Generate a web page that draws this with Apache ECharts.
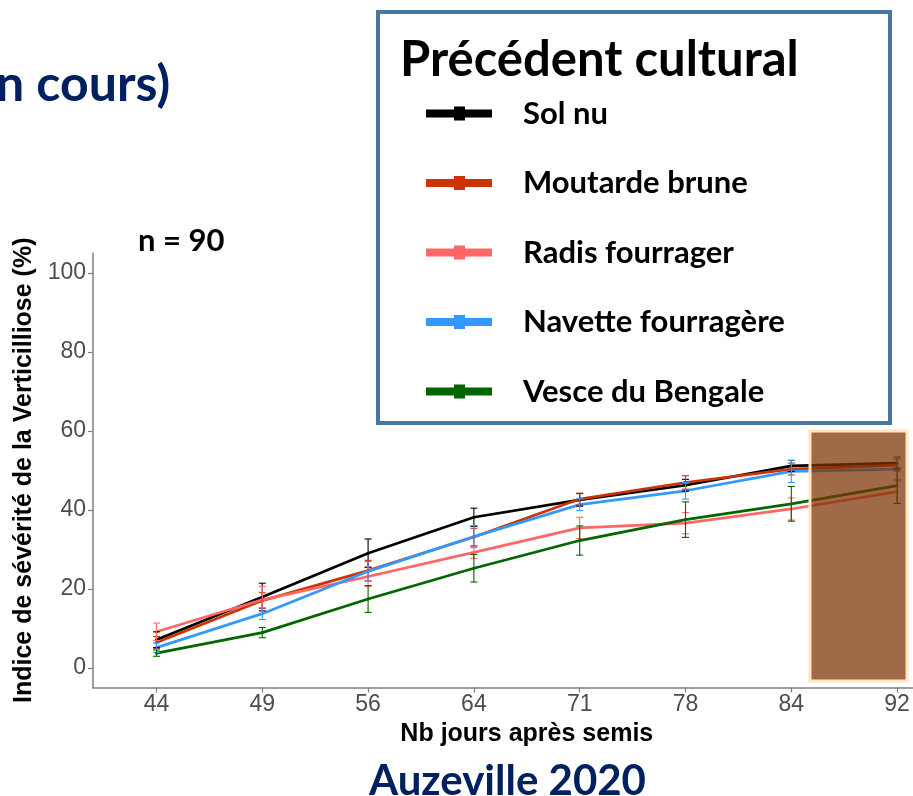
<!DOCTYPE html>
<html>
<head>
<meta charset="utf-8">
<script src="https://cdn.jsdelivr.net/npm/echarts@6/dist/echarts.min.js"></script>
<style>
  html, body { margin: 0; padding: 0; background: #ffffff; }
  #chart { width: 913px; height: 796px; }
</style>
</head>
<body>
<div id="chart"></div>
<script>
// Days after sowing (x categories)
const days = ['44', '49', '56', '64', '71', '78', '84', '92'];
const yTicks = [0, 20, 40, 60, 80, 100];

// Verticillium severity index (%) per previous crop, mean and error half-width
const solNu        = [7.1, 17.9, 29.0, 38.1, 42.5, 46.2, 51.1, 51.8];
const solNuErr     = [2.0, 3.5, 3.6, 2.3, 1.6, 1.5, 1.4, 1.5];
const moutarde     = [6.4, 17.0, 24.6, 33.1, 42.7, 46.9, 50.3, 51.3];
const moutardeErr  = [1.5, 2.0, 2.6, 2.2, 1.5, 1.7, 1.5, 1.5];
const radis        = [9.1, 17.2, 23.1, 29.2, 35.4, 36.6, 40.2, 44.6];
const radisErr     = [2.2, 3.4, 2.5, 1.5, 2.7, 2.7, 2.8, 3.0];
const navette      = [5.1, 13.7, 24.4, 33.2, 41.3, 44.8, 49.7, 50.3];
const navetteErr   = [1.2, 1.5, 2.5, 2.8, 1.5, 2.1, 2.8, 3.0];
const vesce        = [3.7, 8.9, 17.4, 25.2, 32.2, 37.5, 41.5, 46.1];
const vesceErr     = [0.8, 1.3, 3.4, 3.5, 3.7, 4.5, 4.4, 4.5];

const groups = [
  { name: 'Sol nu',             color: '#000000', values: solNu,    err: solNuErr },
  { name: 'Moutarde brune',     color: '#CC3300', values: moutarde, err: moutardeErr },
  { name: 'Radis fourrager',    color: '#FF6666', values: radis,    err: radisErr },
  { name: 'Navette fourragère', color: '#3399FF', values: navette,  err: navetteErr },
  { name: 'Vesce du Bengale',   color: '#006600', values: vesce,    err: vesceErr }
];

const sansR = '"Liberation Sans", Arial, sans-serif';
const sansC = 'Lato, "Open Sans", sans-serif';
const navy = '#002060';
const axisGrey = '#7F7F7F';
const labelGrey = '#4D4D4D';

// legend icon: thick bar with a small square in the middle
const legendIcon = 'path://M0,3H28V0H39V3H66V11H39V14H28V11H0Z';

const lineSeries = groups.map(g => ({
  name: g.name,
  type: 'line',
  data: g.values.map((v, i) => [i, v]),
  symbol: 'circle',
  symbolSize: 3,
  lineStyle: { color: g.color, width: 2.7 },
  itemStyle: { color: g.color },
  z: 3,
  silent: true
}));

const errorSeries = groups.map(g => ({
  name: g.name,
  type: 'custom',
  data: g.values.map((v, i) => [i, v - g.err[i], v + g.err[i]]),
  itemStyle: { color: g.color },
  z: 4,
  silent: true,
  renderItem: (params, api) => {
    const x = api.value(0);
    const top = api.coord([x, api.value(2)]);
    const bot = api.coord([x, api.value(1)]);
    const h = 3.5;
    const st = { stroke: g.color, lineWidth: 1.1 };
    return {
      type: 'group',
      children: [
        { type: 'line', shape: { x1: top[0], y1: top[1], x2: bot[0], y2: bot[1] }, style: st },
        { type: 'line', shape: { x1: top[0] - h, y1: top[1], x2: top[0] + h, y2: top[1] }, style: st },
        { type: 'line', shape: { x1: bot[0] - h, y1: bot[1], x2: bot[0] + h, y2: bot[1] }, style: st }
      ]
    };
  }
}));

const chart = echarts.init(document.getElementById('chart'), null, { renderer: 'canvas' });

chart.setOption({
  animation: false,
  backgroundColor: '#ffffff',
  title: [
    { text: 'n cours)', left: -9, top: 55,
      textStyle: { fontFamily: sansC, fontWeight: 'bold', fontSize: 50, color: navy } },
    { text: 'n = 90', left: 133, top: 220,
      textStyle: { fontFamily: sansC, fontWeight: 'bold', fontSize: 31, color: '#000000' } },
    { text: 'Précédent cultural', left: 395, top: 31,
      textStyle: { fontFamily: sansC, fontWeight: 'bold', fontSize: 49, color: '#000000' } },
    { text: 'Auzeville 2020', left: 364, top: 755,
      textStyle: { fontFamily: sansC, fontWeight: 'bold', fontSize: 42, color: navy } }
  ],
  legend: {
    data: groups.map(g => g.name),
    orient: 'vertical',
    left: 426,
    top: 98,
    padding: 0,
    icon: legendIcon,
    itemWidth: 66,
    itemHeight: 14,
    itemGap: 38.5,
    selectedMode: false,
    textStyle: {
      fontFamily: sansC, fontWeight: 'bold', fontSize: 31, color: '#000000',
      lineHeight: 31, padding: [0, 0, 0, 26]
    }
  },
  grid: { left: 93, top: 253, width: 867.6, height: 434.5, outerBoundsMode: 'none', containLabel: false },
  xAxis: {
    type: 'value',
    min: -0.6,
    max: 7.6,
    name: 'Nb jours après semis',
    nameLocation: 'middle',
    nameGap: 31,
    nameTextStyle: { fontFamily: sansR, fontWeight: 'bold', fontSize: 25, color: '#000000' },
    axisLine: { show: true, onZero: false, lineStyle: { color: axisGrey, width: 1.5 } },
    axisTick: { show: true, length: 5, customValues: days.map((d, i) => i),
                lineStyle: { color: axisGrey, width: 1.2 } },
    axisLabel: { customValues: days.map((d, i) => i), formatter: v => days[Math.round(v)],
                 margin: 6, fontFamily: sansR, fontSize: 23, color: labelGrey },
    splitLine: { show: false }
  },
  yAxis: {
    type: 'value',
    min: -5,
    max: 105,
    name: 'Indice de sévérité de la Verticilliose (%)',
    nameLocation: 'middle',
    nameGap: 44,
    nameTextStyle: { fontFamily: sansR, fontWeight: 'bold', fontSize: 25, color: '#000000' },
    axisLine: { show: true, onZero: false, lineStyle: { color: axisGrey, width: 1.5 } },
    axisTick: { show: true, length: 5, customValues: yTicks,
                lineStyle: { color: axisGrey, width: 1.2 } },
    axisLabel: { customValues: yTicks, margin: 7, fontFamily: sansR, fontSize: 23, color: labelGrey },
    splitLine: { show: false }
  },
  graphic: [
    // legend frame
    { type: 'rect', z: 0, shape: { x: 378, y: 12, width: 512, height: 411 },
      style: { fill: '#ffffff', stroke: '#4A76A6', lineWidth: 4 } },
    // shaded end-of-season band laid over the curves
    { type: 'rect', z: 100, shape: { x: 810, y: 431, width: 97, height: 250 },
      style: { fill: 'rgba(124,50,3,0.725)', stroke: '#FDE6C0', lineWidth: 3 } }
  ],
  series: [...lineSeries, ...errorSeries]
});
</script>
</body>
</html>
